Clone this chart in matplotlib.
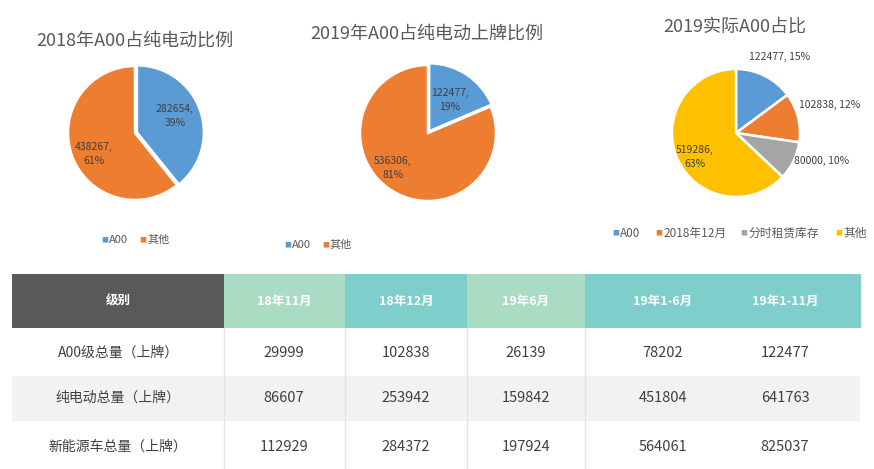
import matplotlib
matplotlib.use("Agg")
import matplotlib.pyplot as plt
from matplotlib.patches import Rectangle
import numpy as np

plt.rcParams['font.family'] = ['Noto Sans CJK SC', 'DejaVu Sans']

# ---------------- data ----------------
pie1_title = "2018年A00占纯电动比例"
pie1_labels = ["A00", "其他"]
pie1_values = [282654, 438267]
pie1_pcts = ["39%", "61%"]

pie2_title = "2019年A00占纯电动上牌比例"
pie2_labels = ["A00", "其他"]
pie2_values = [122477, 536306]
pie2_pcts = ["19%", "81%"]

pie3_title = "2019实际A00占比"
pie3_labels = ["A00", "2018年12月", "分时租赁库存", "其他"]
pie3_values = [122477, 102838, 80000, 519286]
pie3_pcts = ["15%", "12%", "10%", "63%"]

table_cols = ["级别", "18年11月", "18年12月", "19年6月", "19年1-6月", "19年1-11月"]
table_rows = ["A00级总量（上牌）", "纯电动总量（上牌）", "新能源车总量（上牌）"]
a00_total = [29999, 102838, 26139, 78202, 122477]
bev_total = [86607, 253942, 159842, 451804, 641763]
nev_total = [112929, 284372, 197924, 564061, 825037]

# ---------------- figure ----------------
W, H = 874, 469
fig = plt.figure(figsize=(W / 100, H / 100), dpi=100)
fig.patch.set_facecolor("white")

BLUE, ORANGE, GRAY, YELLOW = "#5B9BD5", "#ED7D31", "#A5A5A5", "#FFC000"
TXT = "#404040"


def pie_axes(cx, cy, R, S=140):
    ax = fig.add_axes([(cx - S) / W, 1 - (cy + S) / H, 2 * S / W, 2 * S / H])
    ax.axis("off")
    return ax, S / R


def draw_pie(axlim, values, colors, pcts, placement, styles, explode=None):
    ax, lim = axlim
    wedges, _ = ax.pie(values, colors=colors, startangle=90, counterclock=False,
                       radius=1, explode=explode,
                       wedgeprops=dict(edgecolor="white", linewidth=1.8))
    ax.set_xlim(-lim, lim)
    ax.set_ylim(-lim, lim)
    ax.set_aspect("equal")
    for w, v, p, (d, da), st in zip(wedges, values, pcts, placement, styles):
        mid = np.deg2rad((w.theta1 + w.theta2) / 2 + da)
        x, y = d * np.cos(mid), d * np.sin(mid)
        if st == "in":
            ax.text(x, y, f"{v},\n{p}", ha="center", va="center", fontsize=7.5,
                    color=TXT, linespacing=1.5)
        else:
            ax.text(x, y, f"{v}, {p}", ha=st, va="center", fontsize=7.5, color=TXT)
    return wedges


def legend_row(items, x0, y, gaps, fs=8):
    x = x0
    for (lab, col), g in zip(items, gaps):
        fig.text(x / W, 1 - y / H, "■", color=col, fontsize=5, ha="left", va="center")
        fig.text((x + 8) / W, 1 - y / H, lab, color="#595959", fontsize=fs,
                 ha="left", va="center")
        x += g


# Pie 1
ax1 = pie_axes(135, 133, 67)
draw_pie(ax1, pie1_values, [BLUE, ORANGE], pie1_pcts,
         [(0.65, 4), (0.69, 8)], ["in", "in"], explode=[0.03, 0])
fig.text(135 / W, 1 - 41 / H, pie1_title, ha="center", va="center",
         fontsize=13, color="#595959")
legend_row(list(zip(pie1_labels, [BLUE, ORANGE])), 101, 240, [38, 40])

# Pie 2
ax2 = pie_axes(428, 133, 68)
draw_pie(ax2, pie2_values, [BLUE, ORANGE], pie2_pcts,
         [(0.58, 0), (0.73, -12)], ["in", "in"], explode=[0.03, 0])
fig.text(427 / W, 1 - 34 / H, pie2_title, ha="center", va="center",
         fontsize=13, color="#595959")
legend_row(list(zip(pie2_labels, [BLUE, ORANGE])), 284, 245, [38, 40])

# Pie 3
ax3 = pie_axes(736, 133, 64)
draw_pie(ax3, pie3_values, [BLUE, ORANGE, GRAY, YELLOW], pie3_pcts,
         [(1.37, -3), (1.08, 10), (1.01, 0), (0.74, 7)],
         ["center", "left", "left", "in"])
fig.text(735 / W, 1 - 27 / H, pie3_title, ha="center", va="center",
         fontsize=13, color="#595959")
legend_row(list(zip(pie3_labels, [BLUE, ORANGE, GRAY, YELLOW])), 612, 233,
           [43, 85, 95, 40], fs=8.5)

# ---------------- table ----------------
tax = fig.add_axes([0, 0, 1, 1])
tax.set_xlim(0, W)
tax.set_ylim(H, 0)
tax.axis("off")

col_edges = [12, 224, 345, 467, 585, 723, 860]
head_colors = ["#595959", "#A9DCC3", "#7ECFCB", "#A9DCC3", "#7ECFCB", "#7ECFCB"]
row_edges = [274, 328, 376, 421, 469]
row_bg = ["white", "#F2F2F2", "white"]

for i, col in enumerate(head_colors):
    tax.add_patch(Rectangle((col_edges[i], row_edges[0]),
                            col_edges[i + 1] - col_edges[i] + 0.5,
                            row_edges[1] - row_edges[0], color=col, lw=0))
for r, bg in enumerate(row_bg):
    tax.add_patch(Rectangle((col_edges[0], row_edges[r + 1]), col_edges[-1] - col_edges[0],
                            row_edges[r + 2] - row_edges[r + 1], color=bg, lw=0))
for xe in col_edges[1:5]:
    tax.plot([xe, xe], [row_edges[1], row_edges[-1]], color="#E4E4E4", lw=1)

col_centers = [118, 284, 406, 526, 663, 785]
hy = (row_edges[0] + row_edges[1]) / 2
for c, lab in zip(col_centers, table_cols):
    tax.text(c, hy, lab, ha="center", va="center", color="white",
             fontsize=9, fontweight="bold")

row_vals = [a00_total, bev_total, nev_total]
row_y = [353, 398, 447]
for y, lab, vals in zip(row_y, table_rows, row_vals):
    tax.text(col_centers[0], y, lab, ha="center", va="center", color=TXT, fontsize=10)
    for c, v in zip(col_centers[1:], vals):
        tax.text(c, y, str(v), ha="center", va="center", color=TXT, fontsize=10.5)

fig.savefig("out.png", dpi=100)
